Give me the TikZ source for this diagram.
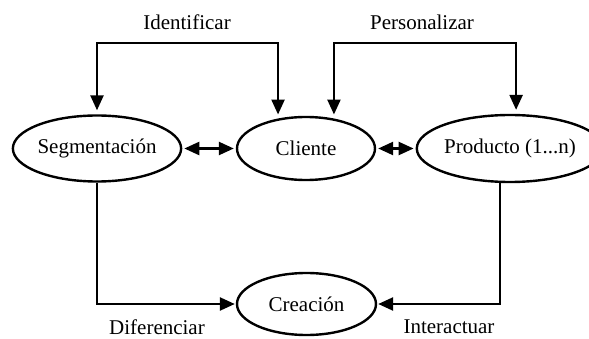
\documentclass[tikz,border=0pt]{standalone}
\usepackage{fontspec}
\setmainfont{Liberation Serif}
\usetikzlibrary{shapes.geometric,arrows.meta}

\begin{document}
\begin{tikzpicture}
    [x=1pt, y=-1pt,
 every node/.style ={font=\fontsize{21}{25}\selectfont},
 state/.style ={ellipse, draw=black, line width=2.4pt, inner sep=0pt},
 flow/.style ={draw, line width=2.4pt, -{Triangle[length=15pt,width=13pt]}, shorten >=2pt},
 both/.style ={draw, line width=2.4pt, {Triangle[length=15pt,width=13pt]}-{Triangle[length=15pt,width=13pt]}, shorten >=2pt, shorten <=2pt}]
        \useasboundingbox (0,0) rectangle (589,339);
        \node[state, minimum width=166, minimum height=66] (seg) at (97,148.5) {Segmentación};
        \node[state, minimum width=138, minimum height=63] (cli) at (306,148.5) {Cliente};
        \node[state, minimum width=156, minimum height=67] (prod) at (510,148.5) {Producto (1...n)};
        \node[state, minimum width=139, minimum height=62] (crea) at (306.5,304) {Creación};
        % lineas de arriba
        \coordinate (id) at (187,43);
        \coordinate (pe) at (422,43);
        \draw[both, shorten <=4pt, shorten >=4pt] (seg.north) |- (id) -| (cli.133);
        \draw[both, shorten <=4pt, shorten >=4pt] (cli.47) |- (pe) -| (prod.80);
        \node at (187,22) {Identificar};
        \node at (422,22) {Personalizar};
        % entre elipses
        \draw[both] (seg) -- (cli);
        \draw[both] (cli) -- (prod);
        % lineas de abajo
        \draw[flow, shorten >=1pt] (seg.south) |- (crea.west);
        \draw[flow, shorten >=1pt] ([xshift=-10]prod.south) |- (crea.east);
        \node at (157,327) {Diferenciar};
        \node at (449,327) {Interactuar};
    \end{tikzpicture}
\end{document}
